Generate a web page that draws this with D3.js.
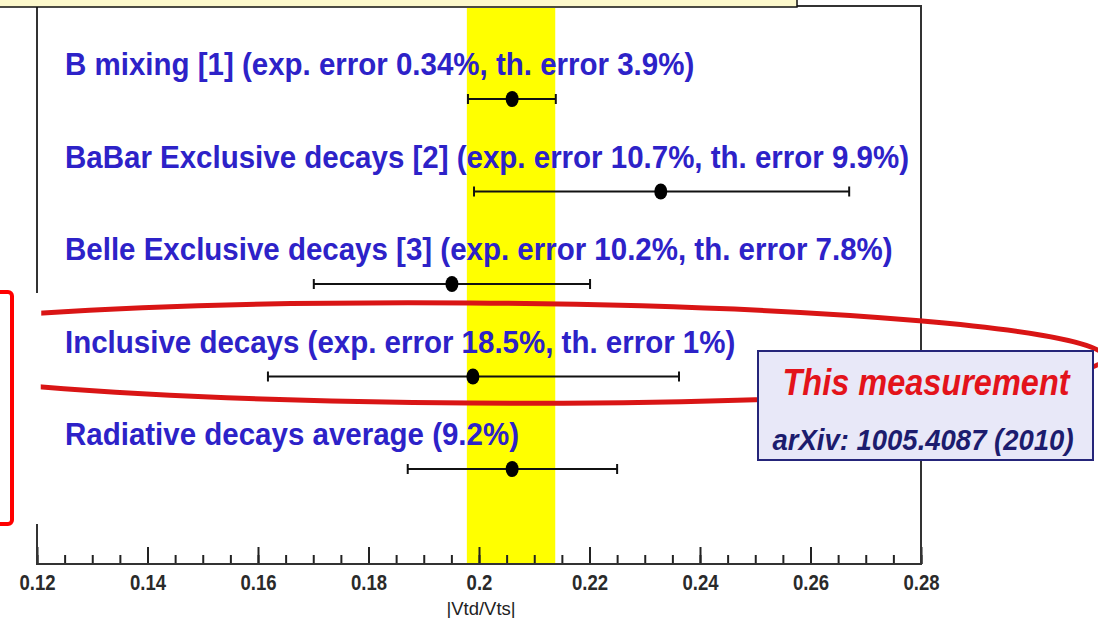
<!DOCTYPE html>
<html>
<head>
<meta charset="utf-8">
<script src="https://cdn.jsdelivr.net/npm/d3@7"></script>
<style>
  body { margin: 0; background: #ffffff; }
  svg { display: block; font-family: "Liberation Sans", Arial, sans-serif; }
</style>
</head>
<body>
<div id="chart"></div>
<script>
// measurements of |Vtd/Vts|
const labels = [
    "B mixing [1] (exp. error 0.34%, th. error 3.9%)",
    "BaBar Exclusive decays [2] (exp. error 10.7%, th. error 9.9%)",
    "Belle Exclusive decays [3] (exp. error 10.2%, th. error 7.8%)",
    "Inclusive decays (exp. error 18.5%, th. error 1%)",
    "Radiative decays average (9.2%)"
];
const values = [0.2060, 0.2329, 0.1951, 0.1989, 0.2060];
const lows   = [0.1980, 0.1991, 0.1701, 0.1618, 0.1871];
const highs  = [0.2139, 0.2670, 0.2201, 0.2362, 0.2250];

// yellow band (B mixing range)
const band = [0.1978, 0.2138];

const majorTicks = [0.12, 0.14, 0.16, 0.18, 0.20, 0.22, 0.24, 0.26, 0.28];
const tickLabels = ["0.12", "0.14", "0.16", "0.18", "0.2", "0.22", "0.24", "0.26", "0.28"];
const minorTicks = d3.range(0, 33).map(i => 0.12 + i * 0.005);

const width = 1098, height = 618;
const frame = { left: 37, right: 921, top: 6, bottom: 564 };

const svg = d3.select("#chart").append("svg")
    .attr("width", width)
    .attr("height", height);

const x = d3.scaleLinear().domain([0.12, 0.28]).range([frame.left, frame.right]);
const y = d3.scalePoint().domain(d3.range(labels.length)).range([99, 469]);

// clip for the ellipse (left part is cut off)
svg.append("defs").append("clipPath")
    .attr("id", "clipRight")
    .append("rect")
    .attr("x", 41).attr("y", 0)
    .attr("width", width - 41).attr("height", height);

// plot background
svg.append("rect")
    .attr("x", frame.left).attr("y", frame.top)
    .attr("width", frame.right - frame.left)
    .attr("height", frame.bottom - frame.top)
    .attr("fill", "#ffffff");

// yellow band
svg.append("rect")
    .attr("x", x(band[0]))
    .attr("y", frame.top + 2)
    .attr("width", x(band[1]) - x(band[0]))
    .attr("height", frame.bottom - frame.top - 2)
    .attr("fill", "#ffff00");

// axis ticks (pointing up, inside the frame)
const axisG = svg.append("g")
    .attr("transform", `translate(0,${frame.bottom})`);

axisG.append("g")
    .call(d3.axisBottom(x).tickValues(minorTicks).tickSize(-9).tickFormat(""))
    .call(g => g.select(".domain").remove())
    .selectAll("line")
    .attr("stroke", "#222")
    .attr("stroke-width", 2);

axisG.append("g")
    .call(d3.axisBottom(x).tickValues(majorTicks).tickSize(-17).tickPadding(8)
        .tickFormat((d, i) => tickLabels[i]))
    .call(g => g.select(".domain").remove())
    .call(g => g.selectAll("line").attr("stroke", "#222").attr("stroke-width", 2))
    .call(g => g.selectAll("text")
        .attr("y", 0)
        .attr("dy", null)
        .attr("transform", "translate(0,26) scale(0.95,1.12)")
        .attr("fill", "#2a2a2a")
        .style("font-size", "19.5px")
        .style("font-weight", "bold"));

// frame
svg.append("rect")
    .attr("x", frame.left).attr("y", frame.top)
    .attr("width", frame.right - frame.left)
    .attr("height", frame.bottom - frame.top)
    .attr("fill", "none")
    .attr("stroke", "#333")
    .attr("stroke-width", 2);

// axis title
svg.append("text")
    .attr("x", (frame.left + frame.right) / 2 + 2)
    .attr("y", 615)
    .attr("text-anchor", "middle")
    .attr("fill", "#222")
    .style("font-size", "18.5px")
    .text("|Vtd/Vts|");

// error bars
const rows = svg.append("g").selectAll("g")
    .data(labels)
    .enter().append("g");

rows.append("line")
    .attr("x1", (d, i) => x(lows[i]))
    .attr("x2", (d, i) => x(highs[i]))
    .attr("y1", (d, i) => y(i))
    .attr("y2", (d, i) => y(i))
    .attr("stroke", "#111")
    .attr("stroke-width", 2);

rows.selectAll(".cap")
    .data((d, i) => [{ v: lows[i], i: i }, { v: highs[i], i: i }])
    .enter().append("line")
    .attr("class", "cap")
    .attr("x1", d => x(d.v)).attr("x2", d => x(d.v))
    .attr("y1", d => y(d.i) - 5).attr("y2", d => y(d.i) + 5)
    .attr("stroke", "#111")
    .attr("stroke-width", 2);

rows.append("ellipse")
    .attr("cx", (d, i) => x(values[i]))
    .attr("cy", (d, i) => y(i))
    .attr("rx", 6.5)
    .attr("ry", 8)
    .attr("fill", "#000");

// row labels (slightly taller than wide, like the source)
rows.append("text")
    .attr("transform", (d, i) => `translate(65,${y(i) - 24}) scale(1,1.08)`)
    .attr("fill", "#2d22c8")
    .style("font-size", "29.5px")
    .style("font-weight", "bold")
    .text(d => d);

// white patch covering the left frame edge
svg.append("rect")
    .attr("x", 28).attr("y", 293)
    .attr("width", 13).attr("height", 231)
    .attr("fill", "#ffffff");

// red highlight ellipse around inclusive decays
svg.append("ellipse")
    .attr("clip-path", "url(#clipRight)")
    .attr("cx", 470).attr("cy", 350)
    .attr("rx", 635).attr("ry", 50)
    .attr("transform", "rotate(0.4, 40, 350)")
    .attr("fill", "none")
    .attr("stroke", "#d91515")
    .attr("stroke-width", 5);

// red bracket at left edge
svg.append("rect")
    .attr("x", -8).attr("y", 292)
    .attr("width", 20).attr("height", 232)
    .attr("rx", 4)
    .attr("fill", "none")
    .attr("stroke", "#ff0000")
    .attr("stroke-width", 4);

// "This measurement" box
const box = svg.append("g");
box.append("rect")
    .attr("x", 758).attr("y", 351)
    .attr("width", 335).attr("height", 109)
    .attr("fill", "#e8e8f8")
    .attr("stroke", "#25257a")
    .attr("stroke-width", 2);

box.append("text")
    .attr("transform", "translate(926,395) scale(1,1.12)")
    .attr("text-anchor", "middle")
    .attr("fill", "#e3131b")
    .style("font-size", "32.5px")
    .style("font-weight", "bold")
    .style("font-style", "italic")
    .text("This measurement");

box.append("text")
    .attr("transform", "translate(923,450) scale(1,1.08)")
    .attr("text-anchor", "middle")
    .attr("fill", "#1c1c6e")
    .style("font-size", "27.5px")
    .style("font-weight", "bold")
    .style("font-style", "italic")
    .text("arXiv: 1005.4087 (2010)");

// cream box at top edge
svg.append("rect")
    .attr("x", -2).attr("y", -2)
    .attr("width", 799).attr("height", 9)
    .attr("fill", "#fdf9cc")
    .attr("stroke", "#111")
    .attr("stroke-width", 1.5);
</script>
</body>
</html>
